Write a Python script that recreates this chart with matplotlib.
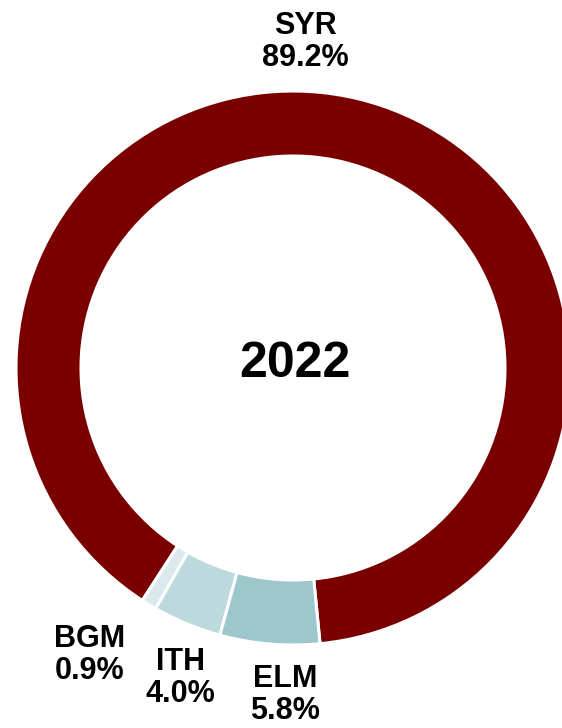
import numpy as np
import matplotlib
matplotlib.use("Agg")
import matplotlib.pyplot as plt

plt.rcParams["font.family"] = ["Liberation Sans", "DejaVu Sans"]

# data
labels = ["SYR", "BGM", "ITH", "ELM"]
shares = [89.2, 0.9, 4.0, 5.8]
colors = ["#7a0000", "#dbe9ed", "#bcd9dd", "#9dc6cd"]
center_label = "2022"

# layout (pixel space, y up)
W, H = 562, 728
CX, CY = 293, 728 - 368
R_OUT = 277
RING = 65
START = -84.4
# label angle / radius tweaks to mimic the original placement
label_angle_shift = [11.5, -4.0, 2.5, 3.5]
label_radius = [326, 352, 330, 327]

fig = plt.figure(figsize=(W / 100, H / 100), dpi=100)
ax = fig.add_axes([0, 0, 1, 1])

wedges, _ = ax.pie(
    shares,
    colors=colors,
    startangle=START,
    counterclock=True,
    radius=R_OUT,
    center=(CX, CY),
    wedgeprops=dict(width=RING, edgecolor="white", linewidth=2.2),
    frame=True,
)
ax.set_xlim(0, W)
ax.set_ylim(0, H)
ax.set_aspect("equal")
ax.axis("off")

for w, lab, s, da, rr in zip(wedges, labels, shares, label_angle_shift, label_radius):
    mid = np.deg2rad((w.theta1 + w.theta2) / 2 + da)
    x = CX + rr * np.cos(mid)
    y = CY + rr * np.sin(mid)
    ax.text(x, y, f"{lab}\n{s:.1f}%", ha="center", va="center",
            fontsize=22, fontweight="bold", color="black", linespacing=1.1)

ax.text(CX + 2, CY + 4, center_label, ha="center", va="center",
        fontsize=36, fontweight="bold", color="black")

fig.savefig("out.png", dpi=100, facecolor="white")
